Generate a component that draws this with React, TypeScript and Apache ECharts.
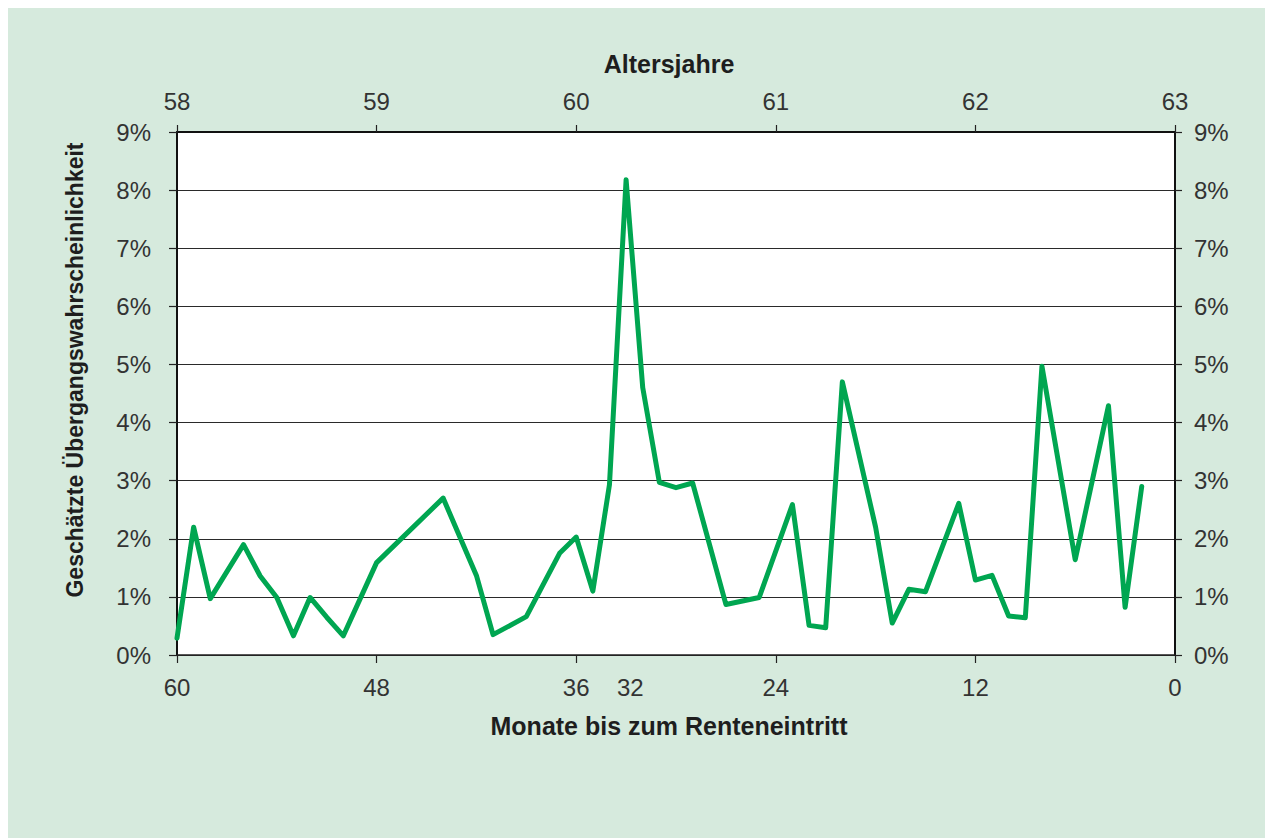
import React, { useEffect, useRef } from "react";
import * as echarts from "echarts";

// Months until retirement (x) and estimated transition probability in % (y)
const months = [60, 59, 58, 56, 55, 54, 53, 52, 51, 50, 48, 44, 42, 41, 39, 37, 36, 35, 34, 33, 32, 31, 30, 29, 27, 25, 23, 22, 21, 20, 18, 17, 16, 15, 13, 12, 11, 10, 9, 8, 6, 4, 3, 2];
const probabilities = [0.29, 2.2, 0.97, 1.9, 1.36, 0.99, 0.33, 0.99, 0.65, 0.33, 1.59, 2.7, 1.37, 0.35, 0.66, 1.75, 2.03, 1.1, 2.93, 8.18, 4.6, 2.97, 2.88, 2.96, 0.87, 0.99, 2.59, 0.51, 0.47, 4.7, 2.2, 0.55, 1.13, 1.09, 2.61, 1.29, 1.37, 0.67, 0.64, 4.97, 1.64, 4.29, 0.82, 2.9];

const monthTicks = [60, 48, 36, 24, 12, 0];
const monthLabels = [60, 48, 36, 32, 24, 12, 0];
const ageTicks = [58, 59, 60, 61, 62, 63];

const xTitle = "Monate bis zum Renteneintritt";
const topTitle = "Altersjahre";
const yTitle = "Geschätzte Übergangswahrscheinlichkeit";

const FONT = "'Liberation Sans', Arial, Helvetica, sans-serif";
const LABEL_COLOR = "#333333";
const TITLE_COLOR = "#1e1e1e";
const LINE_GREEN = "#00a651";
const BG = "#d6eadd";
const labelShift = 0.75; // the "32" label sits slightly toward the peak

export default function App() {
  const ref = useRef<HTMLDivElement>(null);

  useEffect(() => {
    if (!ref.current) return;
    const chart = echarts.init(ref.current, undefined, { renderer: "svg" });
    const data = months.map((m, i) => [m, probabilities[i]]);
    const labelPositions = monthLabels.map((v) => (v === 32 ? v + labelShift : v));

    const axisLabelStyle = {
      color: LABEL_COLOR,
      fontFamily: FONT,
      fontSize: 24,
    };

    chart.setOption({
      animation: false,
      backgroundColor: BG,
      grid: { left: 169, right: 98, top: 124, bottom: 183, show: true, backgroundColor: "#ffffff", borderWidth: 0 },
      xAxis: [
        {
          type: "value",
          min: 0,
          max: 60,
          inverse: true,
          position: "bottom",
          axisLine: { show: true, onZero: false, lineStyle: { color: "#222", width: 1.5 } },
          axisTick: { show: true, inside: false, length: 8, customValues: monthTicks, lineStyle: { color: "#222", width: 1.2 } },
          axisLabel: {
            ...axisLabelStyle,
            margin: 20,
            customValues: labelPositions,
            formatter: (v: number) => String(Math.floor(v)),
          },
          splitLine: { show: false },
        },
        {
          type: "value",
          min: 58,
          max: 63,
          interval: 1,
          position: "top",
          axisLine: { show: true, onZero: false, lineStyle: { color: "#111", width: 2 } },
          axisTick: { show: true, inside: false, length: 7, customValues: ageTicks, lineStyle: { color: "#222", width: 1.2 } },
          axisLabel: { ...axisLabelStyle, margin: 19, customValues: ageTicks },
          splitLine: { show: false },
        },
      ],
      yAxis: [
        {
          type: "value",
          min: 0,
          max: 9,
          interval: 1,
          position: "left",
          axisLine: { show: true, onZero: false, lineStyle: { color: "#111", width: 2 } },
          axisTick: { show: true, inside: false, length: 8, lineStyle: { color: "#222", width: 1.2 } },
          axisLabel: { ...axisLabelStyle, margin: 26, formatter: (v: number) => v + "%" },
          splitLine: { show: true, lineStyle: { color: "#2a2a2a", width: 1.2 } },
        },
        {
          type: "value",
          min: 0,
          max: 9,
          interval: 1,
          position: "right",
          axisLine: { show: true, onZero: false, lineStyle: { color: "#111", width: 2 } },
          axisTick: { show: true, inside: false, length: 7, lineStyle: { color: "#222", width: 1.2 } },
          axisLabel: { ...axisLabelStyle, margin: 19, formatter: (v: number) => v + "%" },
          splitLine: { show: false },
        },
      ],
      graphic: [
        {
          type: "text",
          x: 661,
          y: 56,
          style: { text: topTitle, fill: TITLE_COLOR, font: `bold 25px ${FONT}`, align: "center", verticalAlign: "middle" },
        },
        {
          type: "text",
          x: 661,
          y: 718,
          style: { text: xTitle, fill: TITLE_COLOR, font: `bold 25px ${FONT}`, align: "center", verticalAlign: "middle" },
        },
        {
          type: "text",
          x: 67,
          y: 362,
          rotation: Math.PI / 2,
          style: { text: yTitle, fill: TITLE_COLOR, font: `bold 23px ${FONT}`, align: "center", verticalAlign: "middle" },
        },
      ],
      series: [
        {
          type: "line",
          xAxisIndex: 0,
          yAxisIndex: 0,
          data,
          showSymbol: false,
          symbol: "none",
          lineStyle: { color: LINE_GREEN, width: 5, join: "round", cap: "round" },
          silent: true,
        },
      ],
    });

    return () => chart.dispose();
  }, []);

  return <div ref={ref} style={{ width: 1265, height: 830 }} />;
}
